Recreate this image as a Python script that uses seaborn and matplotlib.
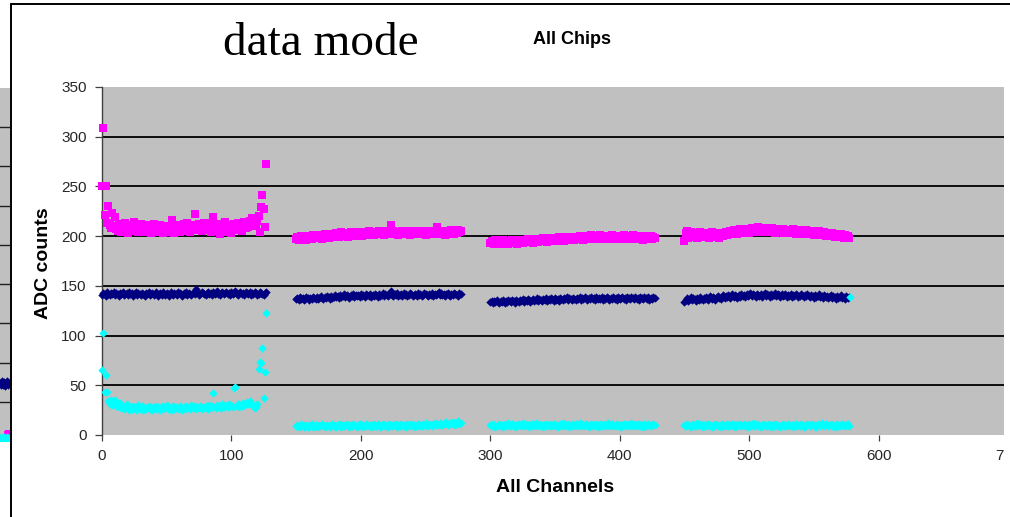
import numpy as np
import pandas as pd
import matplotlib
matplotlib.use("Agg")
import matplotlib.pyplot as plt
import matplotlib.transforms as mtransforms
import seaborn as sns
from matplotlib.lines import Line2D
from matplotlib.patches import Rectangle

# ---------------- data ----------------
chip_starts = [0, 150, 300, 450]
n_channels = 128

magenta_chip1 = [250,309,221,250,213,230,211,208,223,210,219,207,205,212,209,204,
                 210,206,213,208,203,211,207,209,205,214,206,210,204,208,212,206,
                 209,204,211,207,205,210,203,208,212,206,204,209,207,211,205,203,
                 208,206,210,204,209,207,216,205,203,208,211,206,204,210,207,212,
                 205,209,213,207,204,211,208,210,222,206,209,212,207,205,210,213,
                 208,211,206,209,204,213,219,207,210,205,212,202,208,211,206,214,
                 209,204,211,207,203,210,212,206,209,213,207,211,205,210,214,208,
                 212,209,215,211,218,213,216,210,215,220,204,229,241,227,209,273]
magenta_chip2 = [197,199,196,198,200,197,199,198,196,200,198,199,197,201,199,198,
                 200,198,201,199,197,200,202,199,201,198,200,202,199,201,200,203,
                 201,199,202,204,200,202,201,203,199,202,204,201,203,200,202,204,
                 201,203,202,200,204,202,203,201,205,202,204,203,201,204,202,203,
                 205,202,204,203,201,205,203,204,202,211,203,205,202,204,203,201,
                 204,202,205,203,204,202,203,205,201,204,203,202,205,203,204,202,
                 203,205,202,204,201,203,205,202,204,203,205,202,204,209,203,205,
                 202,204,203,201,205,204,202,203,206,204,202,205,203,206,204,205]
magenta_chip3 = [193,195,194,192,196,194,193,195,192,194,196,193,195,194,192,195,
                 194,196,193,195,194,192,196,194,195,193,196,194,195,197,194,196,
                 195,193,197,195,196,194,197,195,196,198,195,197,194,196,198,195,
                 197,196,198,195,197,199,196,198,197,195,199,197,198,196,199,197,
                 198,196,199,197,198,200,197,199,196,198,200,197,199,198,201,197,
                 199,198,200,197,199,201,198,200,197,199,198,200,197,199,201,198,
                 200,197,199,198,200,197,199,201,198,199,197,200,198,199,201,197,
                 199,198,200,197,199,198,196,199,200,197,199,198,200,197,199,198]
magenta_chip4 = [195,203,205,198,201,204,199,202,200,203,198,201,204,200,202,199,
                 201,203,200,198,202,204,201,199,203,200,202,198,201,203,200,202,
                 204,201,203,205,202,204,206,203,205,202,204,207,203,205,206,204,
                 207,205,203,206,208,205,207,204,206,209,205,207,206,204,208,206,
                 205,207,204,206,208,205,203,206,207,204,206,205,207,203,205,206,
                 204,206,203,205,207,204,202,205,204,206,203,205,202,204,206,203,
                 204,202,205,203,201,204,202,203,205,201,203,202,204,200,203,201,
                 202,200,203,201,199,202,200,201,199,202,200,198,201,199,200,198]

navy_chip1 = [141,143,142,140,144,142,141,143,142,144,141,143,142,140,143,142,
              144,141,142,143,141,144,142,143,140,142,144,141,143,142,141,143,
              142,140,143,142,144,141,142,143,141,142,144,140,142,143,141,144,
              142,141,143,142,140,144,142,141,143,142,141,144,143,142,140,143,
              142,144,141,143,142,141,143,144,142,147,143,141,142,144,143,142,
              141,143,144,142,143,141,144,142,143,145,142,141,143,144,142,143,
              144,142,143,141,144,142,143,145,142,141,143,144,142,143,141,144,
              143,142,144,141,143,142,144,143,141,142,144,143,142,141,143,144]
navy_chip2 = [137,138,136,139,137,138,136,137,139,138,136,138,137,139,138,137,
              139,137,138,140,138,137,139,138,140,139,137,140,138,139,141,139,
              140,138,141,139,140,142,139,141,140,138,141,140,142,139,141,140,
              141,139,142,140,141,139,142,141,140,142,139,141,140,142,141,139,
              142,140,141,143,140,142,141,140,142,145,141,140,142,141,143,140,
              141,142,140,143,141,142,140,141,143,142,140,141,142,140,143,141,
              142,140,141,143,142,141,140,142,141,143,140,142,141,142,144,141,
              143,141,142,140,142,143,141,140,142,141,143,142,141,140,143,142]
navy_chip3 = [134,135,133,135,134,136,134,133,135,134,136,133,135,134,136,135,
              134,136,135,133,136,135,134,136,135,137,134,136,135,137,136,134,
              136,137,135,136,138,135,137,136,135,137,136,138,135,137,136,138,
              137,135,138,136,137,135,138,137,136,138,137,139,136,138,137,136,
              138,137,136,138,137,139,136,138,137,139,138,136,138,137,139,137,
              138,136,139,137,138,137,139,136,138,137,139,138,136,138,137,139,
              137,138,136,139,137,138,139,137,138,136,139,138,137,139,138,137,
              139,137,138,136,139,138,137,139,138,137,139,136,138,137,139,138]
navy_chip4 = [134,136,138,135,137,139,136,138,137,135,138,136,139,137,136,138,
              137,139,136,138,140,137,139,138,136,139,140,138,137,139,141,138,
              140,139,141,138,140,142,139,141,140,138,141,139,142,140,141,139,
              142,140,141,143,140,142,141,139,142,141,140,142,139,141,143,140,
              142,141,139,142,140,141,143,140,142,141,139,142,140,141,142,139,
              141,140,142,139,141,140,142,141,139,140,142,141,139,141,140,142,
              140,139,141,140,138,141,139,140,142,139,140,138,141,139,140,138,
              139,141,138,140,139,137,140,138,139,141,138,139,137,140,138,139]

cyan_chip1 = [65,103,43,60,43,34,31,35,30,33,35,29,31,28,32,27,
              29,26,28,31,27,25,28,26,29,27,25,28,30,26,27,29,
              25,28,26,27,29,26,28,25,27,29,26,28,27,25,29,26,
              28,27,30,26,28,25,27,29,26,28,27,26,29,27,25,28,
              26,29,27,28,26,30,27,28,29,26,28,27,29,26,28,27,
              29,28,26,30,27,29,42,28,27,30,28,29,27,31,28,30,
              29,28,31,29,30,28,47,48,29,31,28,30,29,32,30,31,
              33,31,34,32,30,29,27,28,31,66,73,72,87,37,63,123]
cyan_chip2 = [9,10,8,9,11,9,8,10,9,8,10,9,11,8,9,10,
              8,9,10,9,11,10,8,9,10,9,8,10,11,9,10,8,
              10,9,11,8,10,9,10,11,9,8,10,9,11,10,9,8,
              10,11,9,10,8,9,11,10,9,10,8,11,9,10,9,11,
              10,8,9,11,10,9,10,8,11,9,10,9,11,10,8,10,
              9,11,10,9,10,8,11,9,10,11,9,10,8,10,11,9,
              10,9,11,10,12,9,10,11,10,9,11,12,10,11,10,12,
              11,10,12,11,13,10,11,12,11,13,12,10,12,14,11,12]
cyan_chip3 = [10,9,11,10,8,9,10,11,9,10,8,11,10,9,12,10,
              9,11,10,8,10,9,11,10,9,12,10,9,11,10,8,10,
              11,9,10,12,9,10,11,9,10,8,11,10,9,11,10,9,
              10,11,9,10,8,10,11,9,12,10,9,11,10,8,10,11,
              9,10,11,9,10,12,9,11,10,9,11,10,8,10,11,9,
              10,11,9,10,8,11,10,9,10,11,9,12,10,9,11,10,
              9,10,11,9,10,8,10,11,9,10,11,9,10,12,9,10,
              11,9,10,11,9,10,8,11,10,9,11,10,9,10,11,10]
cyan_chip4 = [10,9,11,10,9,8,10,11,9,10,12,9,10,11,8,10,
              9,10,11,9,10,8,10,9,11,10,9,10,8,11,10,9,
              10,11,9,10,9,11,10,8,10,9,11,10,9,10,11,9,
              10,8,11,9,10,12,9,10,11,9,10,8,10,11,9,10,
              9,11,10,8,10,9,11,10,9,10,8,10,11,9,10,9,
              11,10,9,10,8,10,11,9,10,9,11,10,8,10,9,11,
              10,9,11,10,9,10,8,11,10,9,12,10,9,11,10,9,
              10,11,9,10,8,10,11,9,10,9,11,10,9,10,11,9]
cyan_extra_x = [578]
cyan_extra_y = [139]

# partial neighbouring chart at the left edge (only its last channels visible)
left_x = [90, 91, 92, 93, 94, 95, 96, 97, 98, 99]
left_navy = [74, 71, 76, 72, 75, 70, 73, 77, 72, 74]
left_magenta = [None, None, None, None, None, None, None, 9, 10, 8]
left_cyan = [4, 5, 3, 4, 5, 4, 3, 5, 4, 4]

x_ticks = [0, 100, 200, 300, 400, 500, 600, 700]
x_tick_labels = ["0", "100", "200", "300", "400", "500", "600", "7"]
y_ticks = [0, 50, 100, 150, 200, 250, 300, 350]

# ---------------- build table ----------------
rows = []
for series, chips in [("navy", [navy_chip1, navy_chip2, navy_chip3, navy_chip4]),
                      ("magenta", [magenta_chip1, magenta_chip2, magenta_chip3, magenta_chip4]),
                      ("cyan", [cyan_chip1, cyan_chip2, cyan_chip3, cyan_chip4])]:
    for start, vals in zip(chip_starts, chips):
        for i, v in enumerate(vals):
            rows.append({"series": series, "channel": start + i, "adc": v})
for cx, cy in zip(cyan_extra_x, cyan_extra_y):
    rows.append({"series": "cyan", "channel": cx, "adc": cy})
df = pd.DataFrame(rows)

# ---------------- figure ----------------
sns.set_style("white")
plt.rcParams["font.family"] = ["Liberation Sans", "DejaVu Sans"]

W, H = 1010, 517
fig = plt.figure(figsize=(W / 100, H / 100), dpi=100)
fig.patch.set_facecolor("white")

def px_axes(x0, y0, x1, y1):
    return [x0 / W, 1 - y1 / H, (x1 - x0) / W, (y1 - y0) / H]

ax = fig.add_axes(px_axes(102, 87, 1008, 435))
ax.set_facecolor("#C0C0C0")

styles = {"navy": ("#000080", "D", 18),
          "magenta": ("#FF00FF", "s", 27),
          "cyan": ("#00FFFF", "D", 18)}
for name in ["navy", "magenta", "cyan"]:
    col, mk, sz = styles[name]
    sns.scatterplot(data=df[df.series == name], x="channel", y="adc", ax=ax,
                    color=col, marker=mk, s=sz, linewidth=0, legend=False,
                    zorder=3, clip_on=False)

ax.set_xlim(0, 700)
ax.set_ylim(0, 350)
ax.set_xticks(x_ticks)
ax.set_xticklabels(x_tick_labels)
ax.set_yticks(y_ticks)
ax.grid(axis="y", color="black", linewidth=1.3, zorder=1)
ax.grid(axis="x", visible=False)
gl = ax.yaxis.get_gridlines()
gl[0].set_visible(False)
gl[-1].set_visible(False)
ax.set_axisbelow(True)
for s in ["top", "right", "bottom"]:
    ax.spines[s].set_visible(False)
ax.spines["left"].set_color("#404040")
ax.spines["left"].set_linewidth(1.0)
ax.tick_params(axis="both", direction="out", length=4, width=0.9, color="#404040",
               labelsize=11, labelcolor="#262626", pad=6)
ax.tick_params(axis="y", left=True, length=5)
ax.tick_params(axis="x", bottom=True)
ax.set_xlabel("")
ax.set_ylabel("")
# the last label is cropped to "7" at the screenshot edge
last = ax.get_xticklabels()[-1]
last.set_horizontalalignment("right")
last.set_transform(last.get_transform() +
                   mtransforms.ScaledTranslation(-4.5 / 100, 0, fig.dpi_scale_trans))

# left partial chart
ax0 = fig.add_axes(px_axes(-90, 88, 10, 441))
ax0.set_facecolor("#C0C0C0")
ax0.set_xlim(0, 100)
ax0.set_ylim(0, 450)
ax0.set_yticks(range(50, 450, 50))
ax0.set_xticks([])
ax0.grid(axis="y", color="#202020", linewidth=1.0)
ax0.tick_params(left=False, labelleft=False)
for s in ax0.spines.values():
    s.set_visible(False)
sns.scatterplot(x=left_x, y=left_navy, ax=ax0, color="#000080", marker="D", s=18, linewidth=0)
sns.scatterplot(x=left_x, y=[v if v is not None else np.nan for v in left_magenta], ax=ax0,
                color="#FF00FF", marker="s", s=16, linewidth=0)
sns.scatterplot(x=left_x, y=left_cyan, ax=ax0, color="#00FFFF", marker="D", s=18, linewidth=0)

# texts
fig.text(321 / W, 1 - 44 / H, "data mode", family=["Liberation Serif", "DejaVu Serif"],
         fontsize=34, ha="center", va="center", color="black")
fig.text(572 / W, 1 - 39 / H, "All Chips", fontsize=13, fontweight="bold",
         ha="center", va="center", color="black")
fig.text(555 / W, 1 - 487 / H, "All Channels", fontsize=14, fontweight="bold",
         ha="center", va="center", color="black")
fig.text(43 / W, 1 - 263 / H, "ADC counts", fontsize=14, fontweight="bold",
         ha="center", va="center", rotation=90, color="black")

# right white strip (cropped screenshot edge)
fig.add_artist(Rectangle((1004 / W, 1 - 446 / H), 10 / W, 359 / H, transform=fig.transFigure,
                         facecolor="white", edgecolor="none", zorder=10))
# frame lines of the slide
fig.add_artist(Line2D([10.5 / W, 1], [1 - 4 / H, 1 - 4 / H], transform=fig.transFigure,
                      color="black", linewidth=1.4, zorder=11))
fig.add_artist(Line2D([10.5 / W, 10.5 / W], [0, 1 - 4 / H], transform=fig.transFigure,
                      color="black", linewidth=1.4, zorder=11))

fig.savefig("out.png", dpi=100)
